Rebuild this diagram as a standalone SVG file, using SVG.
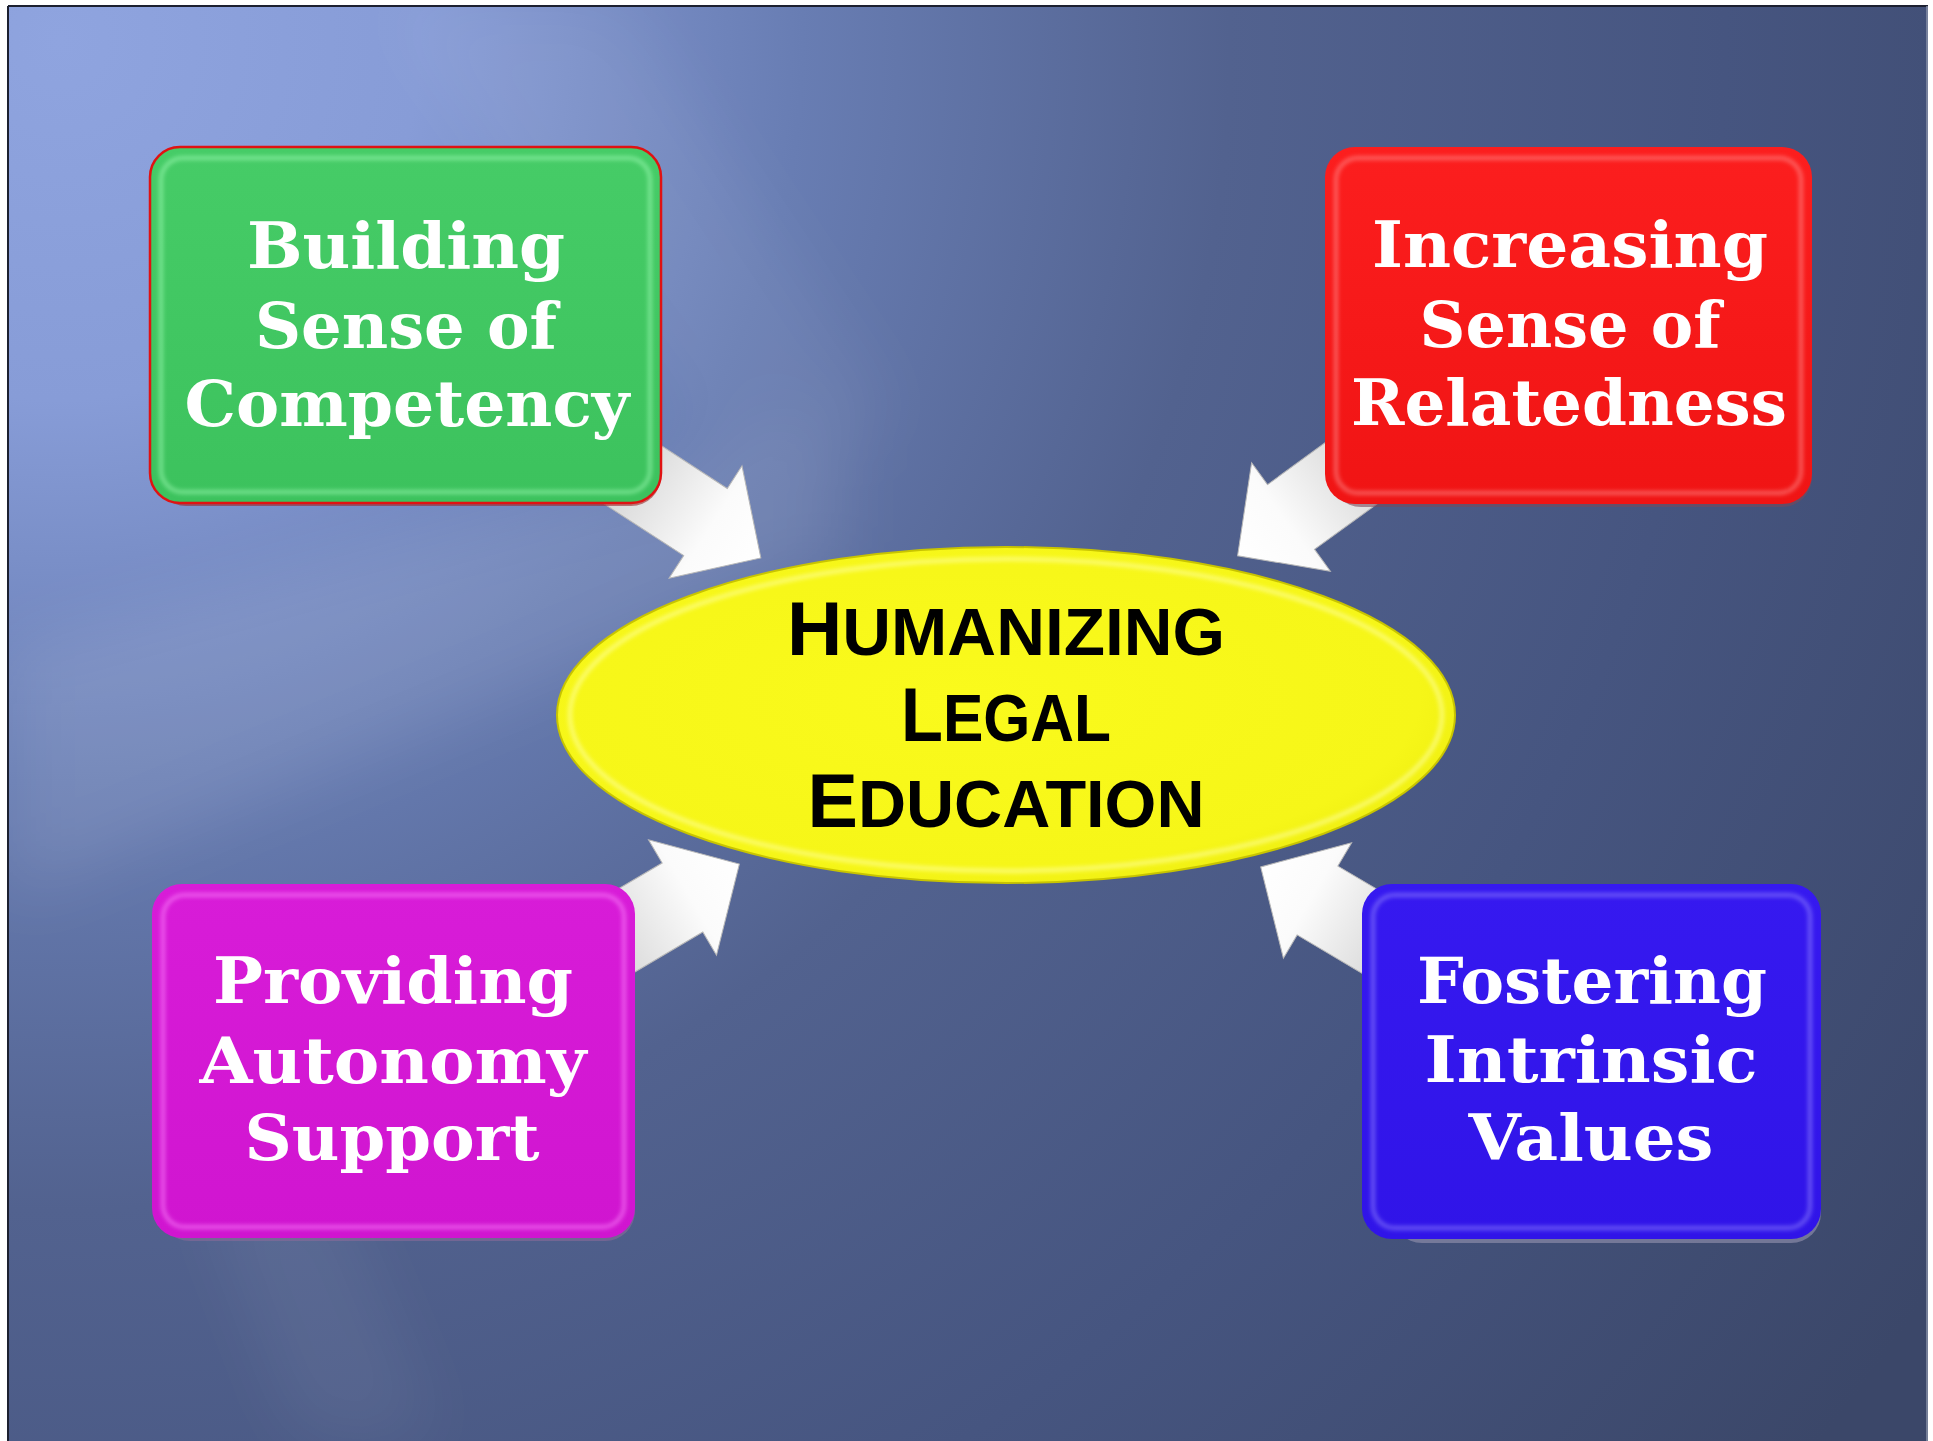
<svg xmlns="http://www.w3.org/2000/svg" width="1933" height="1441" viewBox="0 0 1933 1441">
  <defs>
    <radialGradient id="bgGrad" gradientUnits="userSpaceOnUse" cx="60" cy="40" r="2250">
      <stop offset="0" stop-color="#8fa4df"/>
      <stop offset="0.16" stop-color="#879cd7"/>
      <stop offset="0.33" stop-color="#687db3"/>
      <stop offset="0.52" stop-color="#52628f"/>
      <stop offset="0.74" stop-color="#465580"/>
      <stop offset="1" stop-color="#3b4769"/>
    </radialGradient>
    <filter id="blurBig" x="-20%" y="-20%" width="140%" height="140%">
      <feGaussianBlur stdDeviation="35"/>
    </filter>
    <filter id="blurSm" x="-5%" y="-5%" width="110%" height="110%">
      <feGaussianBlur stdDeviation="2"/>
    </filter>
    <linearGradient id="arrowGrad" gradientUnits="userSpaceOnUse" x1="-170" y1="0" x2="66" y2="0">
      <stop offset="0" stop-color="#bcbcbc"/>
      <stop offset="0.45" stop-color="#e2e2e2"/>
      <stop offset="0.75" stop-color="#fbfbfb"/>
      <stop offset="1" stop-color="#ffffff"/>
    </linearGradient>
    <linearGradient id="gGreen" x1="0" y1="0" x2="0" y2="1">
      <stop offset="0" stop-color="#46cc67"/>
      <stop offset="1" stop-color="#3cc25d"/>
    </linearGradient>
    <linearGradient id="gRed" x1="0" y1="0" x2="0" y2="1">
      <stop offset="0" stop-color="#fc1e1e"/>
      <stop offset="1" stop-color="#f01414"/>
    </linearGradient>
    <linearGradient id="gMag" x1="0" y1="0" x2="0" y2="1">
      <stop offset="0" stop-color="#d81cd8"/>
      <stop offset="1" stop-color="#d015d0"/>
    </linearGradient>
    <linearGradient id="gBlue" x1="0" y1="0" x2="0" y2="1">
      <stop offset="0" stop-color="#3619f0"/>
      <stop offset="1" stop-color="#3014e8"/>
    </linearGradient>
    <radialGradient id="gYellow" cx="0.45" cy="0.45" r="0.6">
      <stop offset="0" stop-color="#fafa1c"/>
      <stop offset="0.85" stop-color="#f6f618"/>
      <stop offset="1" stop-color="#eeee10"/>
    </radialGradient>
    <path id="arrowShape" d="M-170,-40 L0,-40 L0,-67 L66,0 L0,67 L0,40 L-170,40 Z"/>
  </defs>
  <style>
    .box { stroke: none; }
    .rim { fill: none; stroke-opacity: 0.55; stroke-width: 4; }
    .lbl { font-family: "DejaVu Serif", "Liberation Serif", serif; font-weight: bold; font-size: 64px; fill: #ffffff; text-anchor: middle; }
    .ctr { font-family: "Liberation Sans", Arial, sans-serif; font-weight: 700; font-size: 67px; fill: #000000; text-anchor: middle; }
    .cap { font-size: 76px; }
    .arrow { fill: url(#arrowGrad); stroke: #b8b8b8; stroke-width: 1; }
  </style>

  <!-- background -->
  <rect x="0" y="0" width="1933" height="1441" fill="#ffffff"/>
  <rect x="8" y="6" width="1920" height="1435" fill="url(#bgGrad)"/>
  <g filter="url(#blurBig)" fill="#ffffff">
    <polygon points="8,650 8,900 840,560 840,420" opacity="0.10"/>
    <polygon points="200,1180 330,1180 440,1441 300,1441" opacity="0.06"/>
    <polygon points="380,0 620,0 900,420 720,470" opacity="0.06"/>
  </g>
  <line x1="8" y1="6" x2="1928" y2="6" stroke="#1c2030" stroke-width="2"/>
  <line x1="8" y1="6" x2="8" y2="1441" stroke="#1c2030" stroke-width="2"/>
  <line x1="1927" y1="6" x2="1927" y2="1441" stroke="#8a92a8" stroke-width="1.5"/>

  <!-- center node -->
  <g id="node-center">
    <ellipse cx="1006" cy="715" rx="449" ry="168" fill="url(#gYellow)" stroke="#c8c400" stroke-width="2"/>
    <ellipse cx="1006" cy="715" rx="436" ry="156" fill="none" stroke="#ffffa0" stroke-opacity="0.7" stroke-width="4" filter="url(#blurSm)"/>
    <text class="ctr" x="1006" y="655" textLength="438" lengthAdjust="spacingAndGlyphs"><tspan class="cap">H</tspan>UMANIZING</text>
    <text class="ctr" x="1006" y="741" textLength="210" lengthAdjust="spacingAndGlyphs"><tspan class="cap">L</tspan>EGAL</text>
    <text class="ctr" x="1006" y="827" textLength="397" lengthAdjust="spacingAndGlyphs"><tspan class="cap">E</tspan>DUCATION</text>
  </g>

  <!-- connectors -->
  <g id="connectors">
    <use href="#arrowShape" class="arrow" transform="translate(705.5,522) rotate(33)"/>
    <use href="#arrowShape" class="arrow" transform="translate(1291,517) rotate(144)"/>
    <use href="#arrowShape" class="arrow" transform="translate(682.5,897.5) rotate(-30.5)"/>
    <use href="#arrowShape" class="arrow" transform="translate(1317.5,900.5) rotate(210.6)"/>
  </g>

  <!-- nodes -->
  <g id="node-competency">
    <rect x="156" y="152" width="505" height="354" rx="30" fill="#9a2a2a" opacity="0.6"/>
    <rect class="box" x="150" y="147" width="511" height="356" rx="30" fill="url(#gGreen)"/>
    <rect class="rim" x="161" y="158" width="489" height="334" rx="22" stroke="#a8ffbc" filter="url(#blurSm)"/>
    <rect x="150" y="147" width="511" height="356" rx="30" fill="none" stroke="#e01212" stroke-width="2.5"/>
    <text class="lbl" x="406" y="268" textLength="318" lengthAdjust="spacingAndGlyphs">Building</text>
    <text class="lbl" x="406" y="348" textLength="302" lengthAdjust="spacingAndGlyphs">Sense of</text>
    <text class="lbl" x="407" y="426" textLength="445" lengthAdjust="spacingAndGlyphs">Competency</text>
  </g>

  <g id="node-relatedness">
    <rect x="1331" y="152" width="481" height="355" rx="30" fill="#7a4a5a" opacity="0.6"/>
    <rect class="box" x="1325" y="147" width="487" height="357" rx="30" fill="url(#gRed)"/>
    <rect class="rim" x="1336" y="158" width="465" height="335" rx="22" stroke="#ff9a9a" stroke-opacity="0.45" filter="url(#blurSm)"/>
    <text class="lbl" x="1570" y="267" textLength="396" lengthAdjust="spacingAndGlyphs">Increasing</text>
    <text class="lbl" x="1570" y="347" textLength="301" lengthAdjust="spacingAndGlyphs">Sense of</text>
    <text class="lbl" x="1569" y="425" textLength="436" lengthAdjust="spacingAndGlyphs">Relatedness</text>
  </g>

  <g id="node-autonomy">
    <rect x="160" y="889" width="475" height="352" rx="30" fill="#8a6a9a" opacity="0.6"/>
    <rect class="box" x="152" y="884" width="483" height="354" rx="30" fill="url(#gMag)"/>
    <rect class="rim" x="163" y="895" width="461" height="332" rx="22" stroke="#ff90ff" stroke-opacity="0.45" filter="url(#blurSm)"/>
    <text class="lbl" x="393" y="1003" textLength="360" lengthAdjust="spacingAndGlyphs">Providing</text>
    <text class="lbl" x="393" y="1083" textLength="387" lengthAdjust="spacingAndGlyphs">Autonomy</text>
    <text class="lbl" x="392" y="1160" textLength="295" lengthAdjust="spacingAndGlyphs">Support</text>
  </g>

  <g id="node-intrinsic">
    <rect x="1392" y="889" width="429" height="354" rx="30" fill="#8a8aa8" opacity="0.7"/>
    <rect class="box" x="1362" y="884" width="459" height="355" rx="30" fill="url(#gBlue)"/>
    <rect class="rim" x="1373" y="895" width="437" height="333" rx="22" stroke="#9a90ff" stroke-opacity="0.45" filter="url(#blurSm)"/>
    <text class="lbl" x="1592" y="1003" textLength="350" lengthAdjust="spacingAndGlyphs">Fostering</text>
    <text class="lbl" x="1591" y="1082" textLength="333" lengthAdjust="spacingAndGlyphs">Intrinsic</text>
    <text class="lbl" x="1591" y="1160" textLength="245" lengthAdjust="spacingAndGlyphs">Values</text>
  </g>
</svg>
